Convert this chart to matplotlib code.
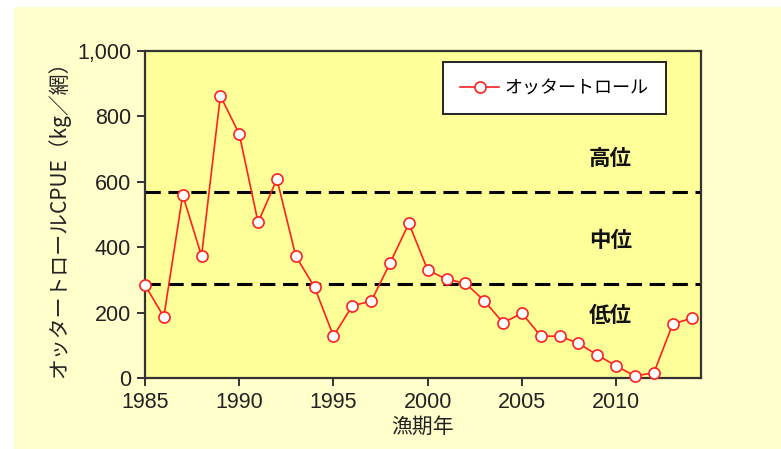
import matplotlib
matplotlib.use("Agg")
import matplotlib.pyplot as plt
from matplotlib.patches import Rectangle
from matplotlib.ticker import FuncFormatter

plt.rcParams["font.family"] = ["Liberation Sans", "Noto Sans CJK JP"]

years = list(range(1985, 2015))
cpue = [284, 187, 560, 373, 863, 746, 476, 608, 373, 277,
        128, 221, 235, 351, 473, 330, 302, 290, 236, 169,
        198, 128, 128, 106, 70, 37, 6, 16, 165, 183]

high_line = 570
low_line = 286
levels = ["高位", "中位", "低位"]
level_y = [670, 419, 190]

fig = plt.figure(figsize=(7.81, 4.49), dpi=100, facecolor="white")
fig.patches.append(Rectangle((14 / 781, 0), 1, 1 - 7 / 449, transform=fig.transFigure,
                             facecolor="#FFFFCC", edgecolor="none", zorder=-1))
ax = fig.add_axes([145 / 781, 1 - 378 / 449, 556 / 781, 327 / 449])
ax.set_facecolor("#FFFF99")

ax.axhline(high_line, color="black", lw=2.2, dashes=(5, 2.5), zorder=2)
ax.axhline(low_line, color="black", lw=2.2, dashes=(5, 2.5), zorder=2)

ax.plot(years, cpue, color="#FF2020", lw=1.2, marker="o", markersize=8,
        markerfacecolor="white", markeredgecolor="#FF2020", markeredgewidth=1.2,
        label="オッタートロール", zorder=3, clip_on=False)

for txt, y in zip(levels, level_y):
    ax.text(2009.7, y, txt, fontsize=15.5, fontweight="bold", ha="center", va="center",
            family=["Noto Sans CJK JP"], color="#111111")

ax.set_xlim(1985, 2014.5)
ax.set_ylim(0, 1000)
ax.set_xticks(range(1985, 2015, 5))
ax.set_yticks(range(0, 1001, 200))
ax.yaxis.set_major_formatter(FuncFormatter(lambda v, p: f"{int(v):,}"))

for s in ax.spines.values():
    s.set_color("#333333")
    s.set_linewidth(1.6)
ax.tick_params(direction="out", length=6, width=1.4, color="#333333",
               labelsize=15.5, labelcolor="#222222", pad=4)

ax.set_xlabel("漁期年", fontsize=15, color="#222222", labelpad=2,
              family=["Noto Sans CJK JP"])
ax.set_ylabel("オッタートロールCPUE（kg／網）", fontsize=15, color="#222222",
              labelpad=5, family=["Noto Sans CJK JP"])

leg = ax.legend(loc="upper right", bbox_to_anchor=(666 / 781, 1 - 62 / 449),
                bbox_transform=fig.transFigure, frameon=True,
                fancybox=False, borderpad=0.95, handlelength=2.2, handletextpad=0.3,
                borderaxespad=0, prop={"family": ["Noto Sans CJK JP"], "size": 13})
leg.get_frame().set_edgecolor("#222222")
leg.get_frame().set_linewidth(1.4)
leg.get_frame().set_facecolor("white")
leg.get_frame().set_alpha(1)

fig.savefig("out.png", dpi=100, facecolor=fig.get_facecolor())
